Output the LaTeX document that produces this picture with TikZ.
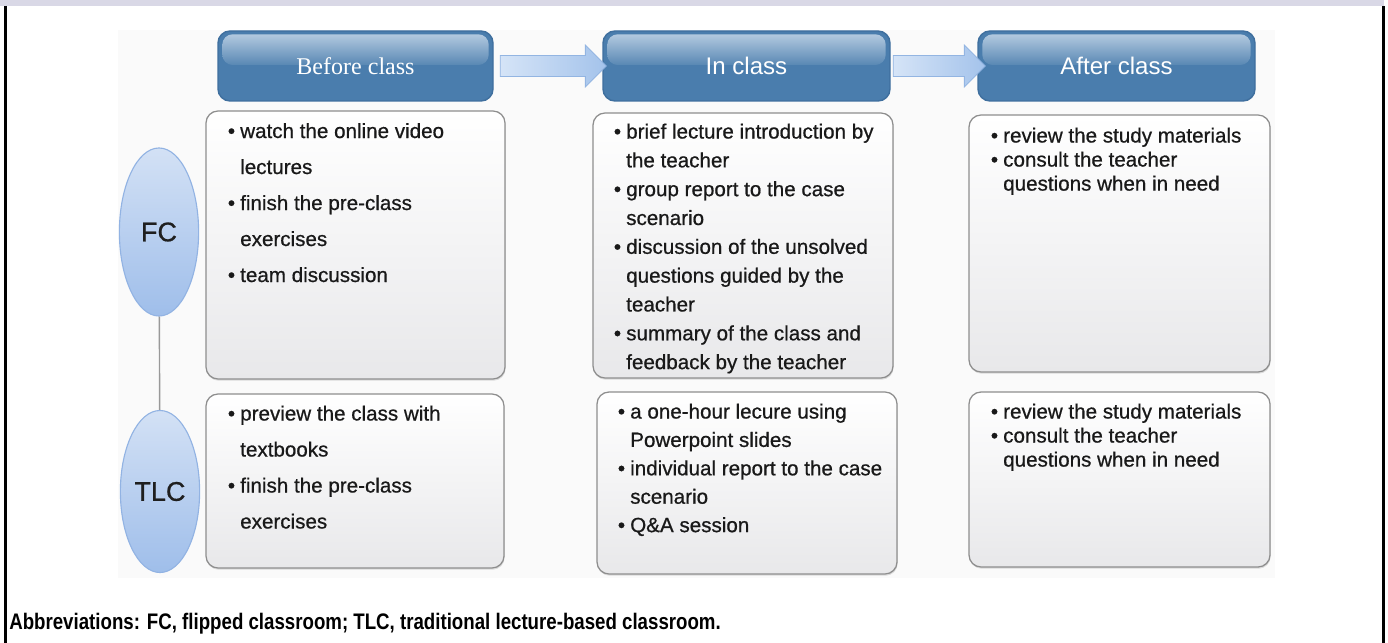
\documentclass[tikz,border=0pt]{standalone}
\usepackage{graphicx}
\usepackage{fontspec}
\setmainfont{Liberation Sans}
\newfontfamily\headserif{Liberation Serif}
\newfontfamily\bodyfam[FakeBold=0.7]{Liberation Sans}
\usetikzlibrary{positioning,fit,calc,shapes.geometric,shapes.arrows,shadows}
\definecolor{HBlue}{HTML}{4A7DAD}
\definecolor{HGloss}{HTML}{B2C9DF}
\definecolor{HEdge}{HTML}{3F6F9E}
\definecolor{ALight}{HTML}{D5E4F7}
\definecolor{ABlue}{HTML}{A4C3EB}
\definecolor{AEdge}{HTML}{93B5E2}
\definecolor{ETop}{HTML}{D3E1F5}
\definecolor{EBlue}{HTML}{9FBEEA}
\definecolor{EEdge}{HTML}{92B3E3}
\definecolor{BoxEdge}{HTML}{8E8E8E}
\definecolor{BoxLow}{HTML}{E8E8EA}
\definecolor{Panel}{HTML}{FAFAFA}
\definecolor{Band}{HTML}{D9D8E6}
\tikzset{
    head/.style = {draw=HEdge, line width=1pt, fill=HBlue,
        rounded corners=0.3cm, inner sep=0pt},
    headtext/.style = {text=white, inner sep=0pt},
    flow/.style = {single arrow, draw=AEdge, line width=0.6pt,
        left color=ALight, right color=ABlue, inner xsep=0pt, inner ysep=0.25cm,
        single arrow head extend=0.26cm},
    note/.style = {draw=BoxEdge, line width=0.9pt, rounded corners=0.3cm,
        top color=white, bottom color=BoxLow, inner sep=0pt,
        drop shadow={shadow xshift=0.4pt, shadow yshift=-1.2pt, opacity=0.25}},
    itemtext/.style = {anchor=north west, align=left, inner sep=0pt, text=black!90},
    lane/.style = {ellipse, draw=EEdge, line width=0.8pt, top color=ETop,
        bottom color=EBlue, inner sep=0pt, minimum width=1.98cm, text=black!88,
        font=\bodyfam\fontsize{19.2}{22}\selectfont},
    link/.style = {draw=black!40, line width=1pt}
}
\newcommand{\bodyfont}[1]{\bodyfam\fontsize{14.65}{#1}\selectfont}
\newcommand{\bul}{\makebox[0.6em][l]{\textbullet}}
\newcommand{\ind}{\hspace*{0.6em}}

\begin{document}
\begin{tikzpicture}[x=0.025cm, y=-0.025cm]
    \useasboundingbox (0,0) rectangle (1388,643);
    \fill[Band] (0,0) rectangle (1384,6);
    \draw[line width=2.2pt] (5.5,6) -- (5.5,643);
    \draw[line width=2.2pt] (1383.5,6) -- (1383.5,643);
    \fill[Panel] (118,30) rectangle (1275,578);

    \node[head, fit={(218,31) (493,101)}] (hbefore) {};
    \node[head, fit={(603,31) (890,101)}] (hin) {};
    \node[head, fit={(978,31) (1255,101)}] (hafter) {};
    \foreach \h in {hbefore,hin,hafter}{
        \shade[top color=HGloss, bottom color=HBlue!92!white, rounded corners=0.26cm]
            ([shift={(5,4)}]\h.north west) rectangle ([shift={(-5,-1)}]\h.east);
    }
    \node[headtext, font=\headserif\fontsize{17.1}{20}\selectfont] (tbefore) at (hbefore) {Before class};
    \node[headtext, font=\fontsize{17.1}{20}\selectfont] (tin) at (hin) {In class};
    \node[headtext, font=\fontsize{17.1}{20}\selectfont] (tafter) at (hafter) {After class};

    \node[flow, minimum height=2.65cm] (ar1) at ($(hbefore.east)!.5!(hin.west)$) {};
    \node[flow, minimum height=2.3cm] (ar2) at ($(hin.east)!.5!(hafter.west)$) {};

    \node[lane, minimum height=4.2cm] (fc) at (159,232) {FC};
    \node[lane, minimum height=4.05cm] (tlc) at (160,491.5) {TLC};
    \draw[link] (fc) -- (tlc);

    \node[note, fit={(206,111) (505,379)}] (fcb) {};
    \node[note, fit={(593,113) (893,378)}] (fci) {};
    \node[note, fit={(969,115) (1270,372)}] (fca) {};
    \node[note, fit={(206,394) (504,568)}] (tlcb) {};
    \node[note, fit={(597,392) (897,574)}] (tlci) {};
    \node[note, fit={(969,392) (1270,567)}] (tlca) {};

    \node[itemtext, font=\bodyfont{25.6}] (fcbt) at (227.6,122.8)
        {\bul watch the online video\\\ind lectures\\\bul finish the pre-class\\\ind exercises\\\bul team discussion};
    \node[itemtext, font=\bodyfont{20.5}] (fcit) at (613.6,123.3)
        {\bul brief lecture introduction by\\\ind the teacher\\\bul group report to the case\\\ind scenario\\\bul discussion of the unsolved\\\ind questions guided by the\\\ind teacher\\\bul summary of the class and\\\ind feedback by the teacher};
    \node[itemtext, font=\bodyfont{17.1}] (fcat) at (990.6,127.3)
        {\bul review the study materials\\\bul consult the teacher\\\ind questions when in need};
    \node[itemtext, font=\bodyfont{25.6}] (tlcbt) at (227.6,405.3)
        {\bul preview the class with\\\ind textbooks\\\bul finish the pre-class\\\ind exercises};
    \node[itemtext, font=\bodyfont{20.2}] (tlcit) at (617.6,403.3)
        {\bul a one-hour lecure using\\\ind Powerpoint slides\\\bul individual report to the case\\\ind scenario\\\bul Q\&A session};
    \node[itemtext, font=\bodyfont{17.1}] (tlcat) at (990.6,403.3)
        {\bul review the study materials\\\bul consult the teacher\\\ind questions when in need};

    \node[anchor=base west, inner sep=0pt, font=\bfseries\fontsize{16}{19}\selectfont] (abbr) at (9,629)
        {\scalebox{0.83}[1]{Abbreviations: FC, flipped classroom; TLC, traditional lecture-based classroom.}};
\end{tikzpicture}
\end{document}
